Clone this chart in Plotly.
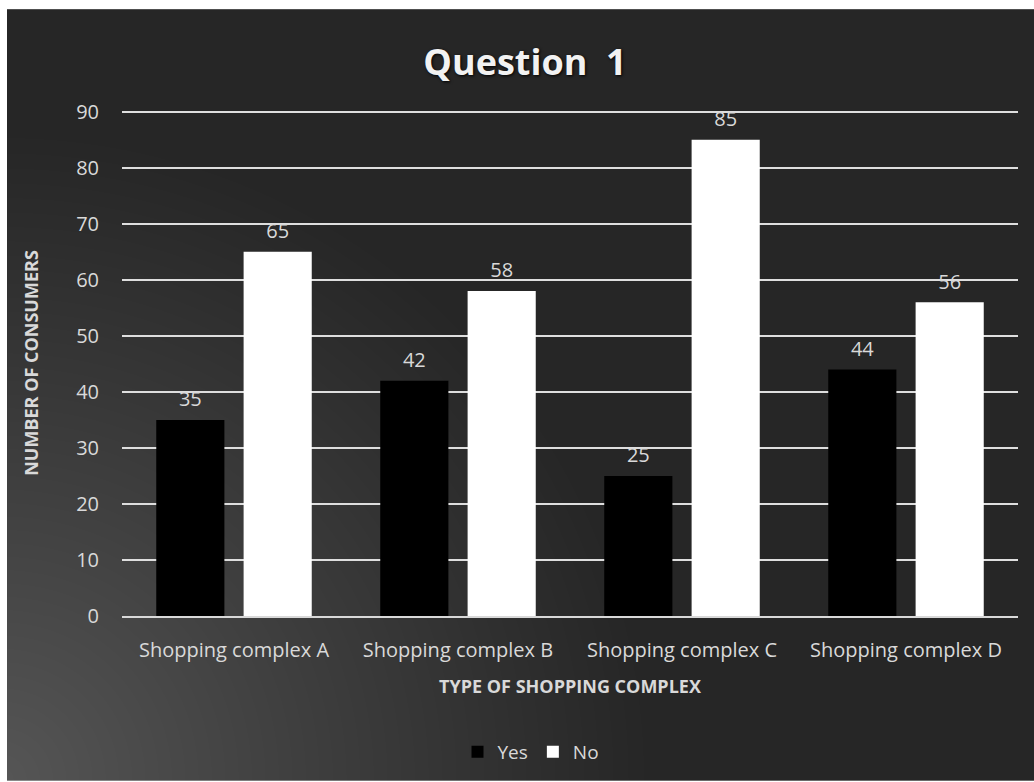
import base64
import struct
import zlib

import numpy as np
import plotly.graph_objects as go

# ---------------- data ----------------
categories = ["Shopping complex A", "Shopping complex B", "Shopping complex C", "Shopping complex D"]
yes_values = [35, 42, 25, 44]
no_values = [65, 58, 85, 56]
y_ticks = [0, 10, 20, 30, 40, 50, 60, 70, 80, 90]

# ---------------- background gradient image ----------------
W, H = 1027, 773


def make_png(gray):
    h, w = gray.shape
    raw = b"".join(b"\x00" + gray[i].tobytes() for i in range(h))

    def chunk(tag, data):
        c = tag + data
        return struct.pack(">I", len(data)) + c + struct.pack(">I", zlib.crc32(c) & 0xFFFFFFFF)

    ihdr = struct.pack(">IIBBBBB", w, h, 8, 0, 0, 0, 0)
    return (b"\x89PNG\r\n\x1a\n" + chunk(b"IHDR", ihdr)
            + chunk(b"IDAT", zlib.compress(raw, 9)) + chunk(b"IEND", b""))


yy, xx = np.mgrid[0:H, 0:W]
d = np.sqrt((xx + 7.0) ** 2 + ((H - 1) - yy) ** 2)
t = np.clip(d / 660.0, 0, 1)
vals = 38 + (86 - 38) * (1 - t) ** 1.05
gray = np.clip(vals, 0, 255).astype(np.uint8)
img_src = "data:image/png;base64," + base64.b64encode(make_png(gray)).decode()

# ---------------- layout geometry ----------------
FW, FH = 1034, 782
ML, MR, MT, MB = 122, 16, 110, 165
PW = FW - ML - MR
PH = FH - MT - MB

bg_x0 = (7 - ML) / PW
bg_y0 = (FH - MB - 9) / PH

txt = "#d9d9d9"
font_family = "Open Sans"
GAP = 0.22

fig = go.Figure()
fig.add_trace(go.Bar(
    name="Yes", x=categories, y=yes_values, offsetgroup="Yes",
    marker=dict(color="#000000", line=dict(width=0)),
))
fig.add_trace(go.Bar(
    name="No", x=categories, y=no_values, offsetgroup="No",
    marker=dict(color="#ffffff", line=dict(width=0)),
))
# data labels, grouped to sit above their bars
for name, vals_ in (("Yes", yes_values), ("No", no_values)):
    fig.add_trace(go.Scatter(
        x=categories, y=vals_, mode="markers+text",
        text=[str(v) for v in vals_], textposition="top center",
        textfont=dict(color=txt, size=20, family=font_family),
        marker=dict(size=12, opacity=0),
        showlegend=False, hoverinfo="skip", cliponaxis=False,
        offsetgroup=name, legendgroup=name,
    ))

fig.update_layout(
    width=FW, height=FH,
    margin=dict(l=ML, r=MR, t=MT, b=MB, pad=0),
    paper_bgcolor="#ffffff",
    plot_bgcolor="rgba(0,0,0,0)",
    barmode="group",
    bargap=GAP,
    bargroupgap=GAP,
    scattermode="group",
    scattergap=GAP,
    font=dict(family=font_family, color=txt, size=20),
    title=dict(
        text="<b>Question\u00a0\u00a01</b>",
        x=525 / FW, xanchor="center",
        y=1 - 62 / FH, yanchor="middle",
        font=dict(size=36, color="#f2f2f2", family=font_family,
                  shadow="1px 1px 3px #000000"),
    ),
    showlegend=True,
    legend=dict(
        orientation="h", x=(531 - ML) / PW, xanchor="center",
        y=(FH - MB - 752) / PH, yanchor="middle",
        font=dict(size=19, color=txt, family=font_family),
        bgcolor="rgba(0,0,0,0)", itemwidth=30,
        traceorder="normal",
    ),
    xaxis=dict(
        showgrid=False,
        showline=True, linecolor="#d9d9d9", linewidth=2,
        ticks="", ticklabelstandoff=15,
        tickfont=dict(size=20, color=txt, family=font_family),
        title=dict(text="<b>TYPE OF SHOPPING COMPLEX</b>",
                   font=dict(size=18, color=txt, family=font_family), standoff=18),
        zeroline=False,
    ),
    yaxis=dict(
        range=[0, 90.3], tickvals=y_ticks,
        showgrid=True, gridcolor="#dedede", gridwidth=1.6,
        zeroline=False, showline=False,
        ticks="", ticklabelstandoff=22,
        tickfont=dict(size=20, color=txt, family=font_family),
        title=dict(text="<b>NUMBER OF CONSUMERS</b>",
                   font=dict(size=18, color=txt, family=font_family), standoff=32),
    ),
    images=[dict(
        source=img_src, xref="paper", yref="paper",
        x=bg_x0, y=bg_y0, sizex=(FW - 7) / PW, sizey=(FH - 9) / PH,
        xanchor="left", yanchor="top", sizing="stretch", layer="below",
    )],
)

fig.write_html("out.html")
